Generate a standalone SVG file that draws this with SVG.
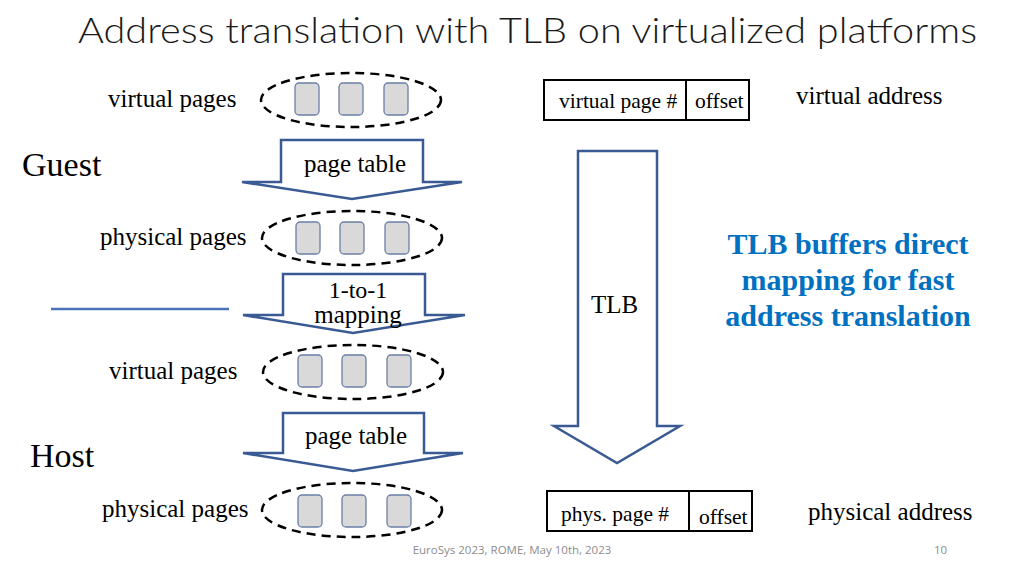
<svg xmlns="http://www.w3.org/2000/svg" width="1024" height="576" viewBox="0 0 1024 576">
<style>
.t{font-family:"Liberation Serif","Times New Roman",serif;fill:#000}
.lbl{font-size:25px}
.arrow{fill:#fff;stroke:#3a5a93;stroke-width:2.5;stroke-linejoin:miter}
.ell{fill:none;stroke:#000;stroke-width:2.5;stroke-dasharray:9 6}
.pg{fill:#d9d9d9;stroke:#6b7fa8;stroke-width:1.3}
.box{fill:#fff;stroke:#000;stroke-width:2}
.sm{font-size:21.5px}
.blue{font-family:"Liberation Serif","Times New Roman",serif;font-weight:bold;font-size:30px;fill:#0070c0}
.foot{font-family:"Open Sans","Liberation Sans",sans-serif;font-size:11.5px;fill:#8c8c8c}
</style>
<defs>
<g id="pages">
<rect class="pg" x="-56" y="-16" width="24" height="32" rx="4"/>
<rect class="pg" x="-12" y="-16" width="24" height="32" rx="4"/>
<rect class="pg" x="33" y="-16" width="24" height="32" rx="4"/>
</g>
</defs>
<rect width="1024" height="576" fill="#fff"/>
<text x="78" y="43" font-family="Lato,'Open Sans',sans-serif" font-weight="300" font-size="36" fill="#1a1a1a" textLength="899" lengthAdjust="spacingAndGlyphs">Address translation with TLB on virtualized platforms</text>

<g id="side-labels">
<text class="t" x="22" y="176" font-size="34">Guest</text>
<text class="t" x="30" y="467" font-size="34">Host</text>
<line x1="51" y1="309" x2="229" y2="309" stroke="#4a72b8" stroke-width="2.5"/>
</g>

<g id="guest-virtual-pages">
<text class="t lbl" x="108" y="107">virtual pages</text>
<ellipse class="ell" cx="351" cy="100" rx="90" ry="27"/>
<use href="#pages" x="351" y="99"/>
</g>

<g id="guest-page-table">
<path class="arrow" d="M281,140 H423 V182 H462 L352,199 L242,182 H281 Z"/>
<text class="t lbl" x="355" y="172" text-anchor="middle">page table</text>
</g>

<g id="guest-physical-pages">
<text class="t lbl" x="100" y="245">physical pages</text>
<ellipse class="ell" cx="352" cy="238" rx="90" ry="27"/>
<use href="#pages" x="352" y="238"/>
</g>

<g id="mapping">
<path class="arrow" d="M283,274 H425 V315 H465 L353,333 L243,315 H283 Z"/>
<text class="t" x="358" y="298" text-anchor="middle" font-size="24">1-to-1</text>
<text class="t" x="358" y="323" text-anchor="middle" font-size="25">mapping</text>
</g>

<g id="host-virtual-pages">
<text class="t lbl" x="109" y="379">virtual pages</text>
<ellipse class="ell" cx="353" cy="372" rx="90" ry="27"/>
<use href="#pages" x="354" y="371"/>
</g>

<g id="host-page-table">
<path class="arrow" d="M283,413 H424 V453 H463 L353,471 L243,453 H283 Z"/>
<text class="t lbl" x="356" y="444" text-anchor="middle">page table</text>
</g>

<g id="host-physical-pages">
<text class="t lbl" x="102" y="517">physical pages</text>
<ellipse class="ell" cx="352" cy="510" rx="90" ry="27"/>
<use href="#pages" x="354" y="511"/>
</g>

<g id="virtual-address">
<rect class="box" x="544" y="80" width="205" height="40"/>
<line x1="686" y1="80" x2="686" y2="120" stroke="#000" stroke-width="2"/>
<text class="t sm" x="559" y="108">virtual page #</text>
<text class="t sm" x="695" y="108">offset</text>
<text class="t lbl" x="796" y="104">virtual address</text>
</g>

<g id="tlb">
<path class="arrow" d="M578,151 H657 V426 H680 L617,463 L554,426 H578 Z"/>
<text class="t" x="591" y="313" font-size="25">TLB</text>
</g>

<g id="physical-address">
<rect class="box" x="547" y="491" width="205" height="40"/>
<line x1="689" y1="491" x2="689" y2="531" stroke="#000" stroke-width="2"/>
<text class="t sm" x="561" y="521">phys. page #</text>
<text class="t sm" x="699" y="524">offset</text>
<text class="t lbl" x="808" y="520">physical address</text>
</g>

<g id="note">
<text class="blue" x="848" y="254" text-anchor="middle">TLB buffers direct</text>
<text class="blue" x="848" y="290" text-anchor="middle">mapping for fast</text>
<text class="blue" x="848" y="326" text-anchor="middle">address translation</text>
</g>

<g id="footer">
<text class="foot" x="512" y="554" text-anchor="middle">EuroSys 2023, ROME, May 10th, 2023</text>
<text class="foot" x="934" y="554">10</text>
</g>
</svg>
